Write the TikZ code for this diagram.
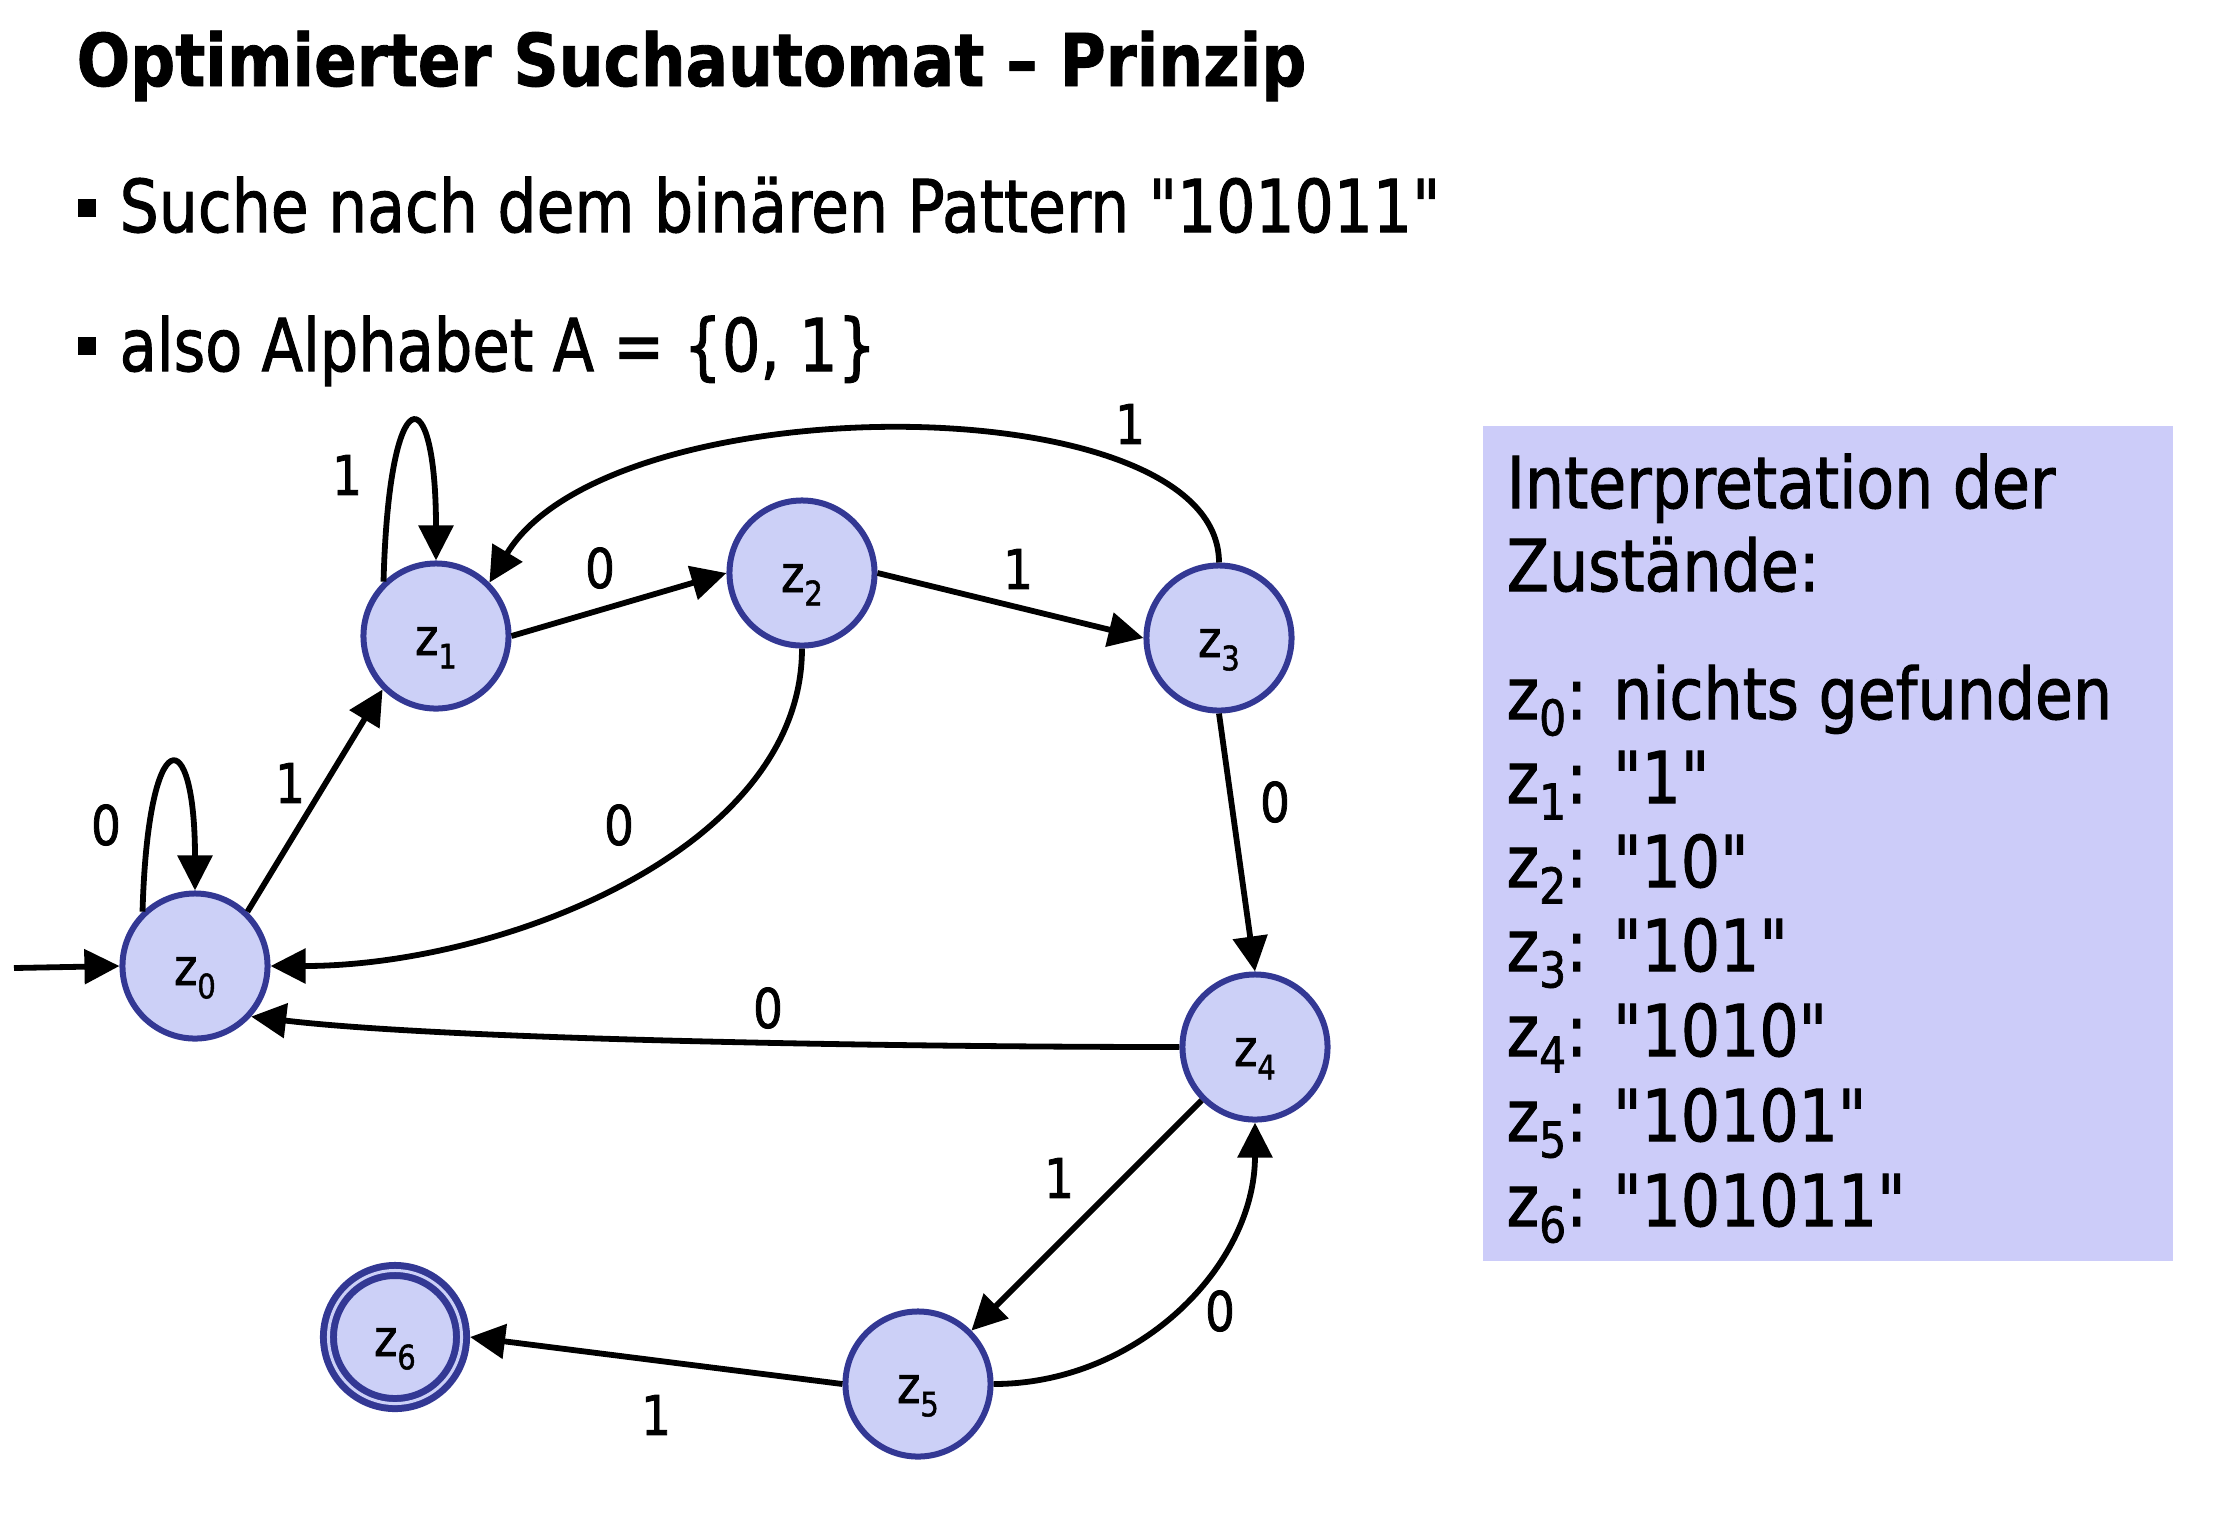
\documentclass[tikz,border=0pt]{standalone}
\usepackage{fontspec}
\setmainfont{DejaVu Sans}[Ligatures=TeXOff]
\newfontfamily\rf{DejaVu Sans}[Ligatures=TeXOff, FakeBold=1.5]
\newfontfamily\tf{DejaVu Sans}[Ligatures=TeXOff, BoldFeatures={FakeBold=1.2}]
\usetikzlibrary{arrows.meta}
\definecolor{nodefill}{RGB}{204,208,247}
\definecolor{nodeline}{RGB}{51,56,148}
\definecolor{boxfill}{RGB}{204,204,249}
\newcommand\hs[1]{\scalebox{0.865}[1]{#1}}
\newcommand\zz[1]{z\raisebox{-0.26em}{\scalebox{0.66}{#1}}}
\newcommand\zb[1]{z\raisebox{-0.23em}{\scalebox{0.69}{#1}}}
\tikzset{
  state/.style={circle, draw=nodeline, fill=nodefill, line width=0.06cm,
    minimum size=1.45cm, inner sep=0pt, text height=0.38cm, text depth=0cm,
    font=\rf\fontsize{14.5}{16}\selectfont},
  final/.style={circle, draw=nodeline, fill=nodefill, line width=0.07cm,
    double=nodefill, double distance=0.03cm, minimum size=1.33cm,
    outer sep=0.085cm, inner sep=0pt, text height=0.38cm, text depth=0cm,
    font=\rf\fontsize{14.5}{16}\selectfont},
  edge/.style={line width=0.058cm, -{Triangle[length=0.35cm,width=0.34cm]}},
  elab/.style={inner sep=0pt, font=\rf\fontsize{15.5}{17}\selectfont},
  boxtxt/.style={anchor=base west, inner sep=0pt, font=\rf\fontsize{20.3}{24}\selectfont},
  bulletsq/.style={fill=black, minimum size=0.18cm, inner sep=0pt},
}
\begin{document}
\begin{tikzpicture}[x=0.01cm, y=-0.01cm]
\useasboundingbox (0,0) rectangle (2214,1538);
% title and bullets
\node[anchor=base west, inner sep=0pt] (title) at (76,86)
  {\resizebox{12.29cm}{\height}{\tf\fontsize{20.7}{24}\selectfont\bfseries Optimierter Suchautomat – Prinzip}};
\node[bulletsq] (s1) at (87,208) {};
\node[anchor=base west, inner sep=0pt] (b1) at (119,232)
  {\resizebox{13.2cm}{\height}{\rf\fontsize{20.7}{24}\selectfont Suche nach dem binären Pattern "101011"}};
\node[bulletsq] (s2) at (87,346) {};
\node[anchor=base west, inner sep=0pt] (b2) at (119,371)
  {\resizebox{7.56cm}{\height}{\rf\fontsize{20.7}{24}\selectfont also Alphabet A = \{0, 1\}}};
% interpretation box
\node[fill=boxfill, minimum width=6.9cm, minimum height=8.35cm, anchor=north west, inner sep=0pt] (box) at (1482,425) {};
\node[boxtxt] (t1) at (1506,508) {\hs{Interpretation der}};
\node[boxtxt] (t2) at (1506,591) {\hs{Zustände:}};
\node[boxtxt] (t3) at (1506,719) {\hs{\zb{0}: nichts gefunden}};
\node[boxtxt] (t4) at (1506,803) {\hs{\zb{1}: "1"}};
\node[boxtxt] (t5) at (1506,887) {\hs{\zb{2}: "10"}};
\node[boxtxt] (t6) at (1506,971) {\hs{\zb{3}: "101"}};
\node[boxtxt] (t7) at (1506,1056) {\hs{\zb{4}: "1010"}};
\node[boxtxt] (t8) at (1506,1141) {\hs{\zb{5}: "10101"}};
\node[boxtxt] (t9) at (1506,1226) {\hs{\zb{6}: "101011"}};
% states
\node[state] (z0) at (195,966) {\hs{\zz{0}}};
\node[state] (z1) at (436,636) {\hs{\zz{1}}};
\node[state] (z2) at (802,573) {\hs{\zz{2}}};
\node[state] (z3) at (1219,638) {\hs{\zz{3}}};
\node[state] (z4) at (1255,1047) {\hs{\zz{4}}};
\node[state] (z5) at (918,1384) {\hs{\zz{5}}};
\node[final] (z6) at (395,1337) {\hs{\zz{6}}};
\coordinate (init) at (14,968);
% transitions
\draw[edge] (init) -- (z0.west);
\draw[edge] (z0.134) .. controls (148,720) and (195,720) .. (z0.north);
\draw[edge] (z1.134) .. controls (389,375) and (436,375) .. (z1.north);
\draw[edge] (z0.46) -- (z1.225);
\draw[edge] (z1.east) -- (z2.west);
\draw[edge] (z2.east) -- (z3.west);
\draw[edge] (z3.north) .. controls (1219,383) and (610,383) .. (z1.45);
\draw[edge] (z2.south) .. controls (802,850) and (500,966) .. (z0.east);
\draw[edge] (z3.south) -- (z4.north);
\draw[edge] (z4.west) .. controls (900,1047) and (450,1040) .. (z0.-42);
\draw[edge] (z4.225) -- (z5.45);
\draw[edge] (z5.east) .. controls (1138,1384) and (1255,1266) .. (z4.south);
\draw[edge] (z5.west) -- (z6.east);
% labels
\node[elab] (l00) at (106,825) {\hs{0}};
\node[elab] (l01) at (290,783) {\hs{1}};
\node[elab] (l11) at (347,475) {\hs{1}};
\node[elab] (l12) at (600,568) {\hs{0}};
\node[elab] (l23) at (1018,569) {\hs{1}};
\node[elab] (l31) at (1130,424) {\hs{1}};
\node[elab] (l20) at (619,825) {\hs{0}};
\node[elab] (l34) at (1275,802) {\hs{0}};
\node[elab] (l40) at (768,1008) {\hs{0}};
\node[elab] (l45) at (1059,1178) {\hs{1}};
\node[elab] (l54) at (1220,1311) {\hs{0}};
\node[elab] (l56) at (656,1415) {\hs{1}};
\end{tikzpicture}
\end{document}
